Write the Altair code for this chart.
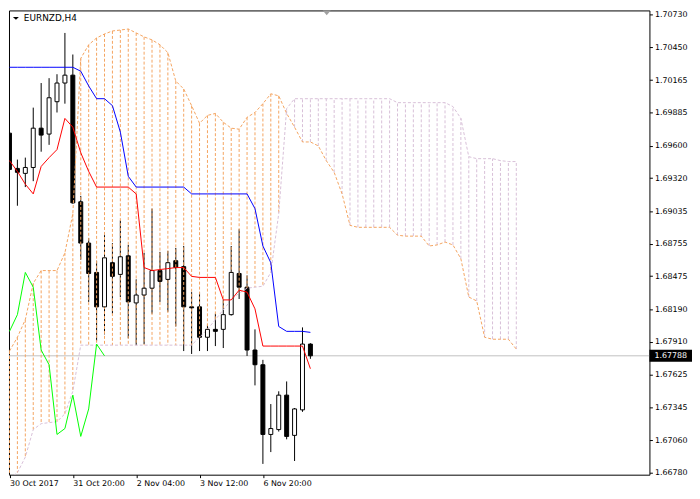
import altair as alt
import pandas as pd

symbol = "EURNZD,H4"
last_price = 1.67788

bar_index = list(range(39))
opens = [1.69708, 1.69404, 1.69361, 1.69412, 1.69751, 1.69700, 1.69979, 1.70140, 1.70208, 1.69116,
         1.68760, 1.68507, 1.68210, 1.68591, 1.68490, 1.68650, 1.68244, 1.68312, 1.68371, 1.68523,
         1.68447, 1.68608, 1.68557, 1.68210, 1.68210, 1.67948, 1.68016, 1.68016, 1.68143, 1.68498,
         1.68380, 1.67838, 1.67711, 1.67110, 1.67152, 1.67449, 1.67102, 1.67322, 1.67889]
highs = [1.69886, 1.69480, 1.69497, 1.69928, 1.70140, 1.70182, 1.70216, 1.70572, 1.70386, 1.69167,
         1.68803, 1.68608, 1.68828, 1.68760, 1.68955, 1.68744, 1.68447, 1.68676, 1.69057, 1.68684,
         1.68693, 1.68718, 1.68735, 1.68337, 1.68337, 1.68058, 1.68151, 1.68270, 1.68735, 1.68879,
         1.68481, 1.68016, 1.67753, 1.67372, 1.67482, 1.67567, 1.67338, 1.68033, 1.67897]
lows = [1.69243, 1.69082, 1.69243, 1.69294, 1.69548, 1.69607, 1.69886, 1.69962, 1.69099, 1.68617,
        1.68253, 1.67914, 1.67973, 1.68151, 1.68295, 1.67939, 1.67880, 1.67889, 1.68151, 1.68253,
        1.68168, 1.68041, 1.67829, 1.67804, 1.67829, 1.67829, 1.67872, 1.67855, 1.68135, 1.68278,
        1.67787, 1.67533, 1.66856, 1.66958, 1.67135, 1.67068, 1.66881, 1.67305, 1.67762]
closes = [1.69395, 1.69370, 1.69412, 1.69751, 1.69691, 1.70013, 1.70140, 1.70208, 1.69107, 1.68760,
          1.68498, 1.68210, 1.68633, 1.68473, 1.68642, 1.68253, 1.68312, 1.68371, 1.68523, 1.68430,
          1.68591, 1.68549, 1.68210, 1.68202, 1.67948, 1.68016, 1.67999, 1.68143, 1.68507, 1.68380,
          1.67838, 1.67711, 1.67110, 1.67161, 1.67449, 1.67093, 1.67330, 1.67889, 1.67788]

tenkan = [1.69471, 1.69378, 1.69268, 1.69184, 1.69421, 1.69497, 1.69566, 1.69835, 1.69759, 1.69539,
          1.69378, 1.69243, 1.69243, 1.69243, 1.69243, 1.69243, 1.69184, 1.68549, 1.68523, 1.68532,
          1.68540, 1.68549, 1.68549, 1.68473, 1.68464, 1.68464, 1.68464, 1.68270, 1.68270, 1.68354,
          1.68337, 1.68193, 1.67872, 1.67872, 1.67872, 1.67872, 1.67872, 1.67872, 1.67677]
kijun = [1.70276, 1.70276, 1.70276, 1.70276, 1.70276, 1.70276, 1.70276, 1.70276, 1.70276, 1.70242,
         1.70115, 1.70005, 1.70005, 1.69945, 1.69717, 1.69336, 1.69243, 1.69243, 1.69243, 1.69243,
         1.69243, 1.69243, 1.69243, 1.69184, 1.69184, 1.69184, 1.69184, 1.69184, 1.69184, 1.69184,
         1.69184, 1.69057, 1.68735, 1.68591, 1.68041, 1.67999, 1.67999, 1.67999, 1.67990]

cloud_index = list(range(65))
span_a = [1.67829, 1.67948, 1.68100, 1.68413, 1.68523, 1.68523, 1.68523, 1.68676, 1.69014, 1.70352,
          1.70470, 1.70529, 1.70563, 1.70589, 1.70597, 1.70606, 1.70572, 1.70538, 1.70512, 1.70470,
          1.70402, 1.70157, 1.70089, 1.69945, 1.69793, 1.69861, 1.69878, 1.69802, 1.69751, 1.69742,
          1.69844, 1.69886, 1.69962, 1.70047, 1.70030, 1.69878, 1.69759, 1.69632, 1.69632, 1.69598,
          1.69471, 1.69370, 1.69184, 1.68913, 1.68896, 1.68896, 1.68896, 1.68896, 1.68896, 1.68828,
          1.68820, 1.68820, 1.68820, 1.68735, 1.68744, 1.68769, 1.68744, 1.68625, 1.68295, 1.68261,
          1.67948, 1.67931, 1.67931, 1.67931, 1.67846]
span_b = [1.66729, 1.66780, 1.66915, 1.67152, 1.67203, 1.67212, 1.67220, 1.67288, 1.67482, 1.67880,
          1.67880, 1.67880, 1.67880, 1.67880, 1.67880, 1.67880, 1.67880, 1.67880, 1.67880, 1.67880,
          1.67880, 1.67880, 1.67880, 1.67880, 1.67948, 1.68016, 1.68100, 1.68185, 1.68270, 1.68329,
          1.68371, 1.68380, 1.68388, 1.68507, 1.69014, 1.69920, 1.70005, 1.70005, 1.70005, 1.70005,
          1.70005, 1.70005, 1.70005, 1.70005, 1.70005, 1.70005, 1.70005, 1.70005, 1.70005, 1.69971,
          1.69971, 1.69971, 1.69971, 1.69971, 1.69971, 1.69971, 1.69937, 1.69835, 1.69505, 1.69488,
          1.69488, 1.69488, 1.69471, 1.69463, 1.69463]

time_ticks = [0, 8, 16, 24, 32]
time_labels = ["30 Oct 2017", "31 Oct 20:00", "2 Nov 04:00", "3 Nov 12:00", "6 Nov 20:00"]
price_ticks = [1.70730, 1.70450, 1.70165, 1.69885, 1.69600, 1.69320, 1.69035, 1.68755,
               1.68475, 1.68190, 1.67910, 1.67625, 1.67345, 1.67060, 1.66780]

FONT = "DejaVu Sans"
SANDY = "#F4A460"
THISTLE = "#D8BFD8"

candles = pd.DataFrame({"i": bar_index, "open": opens, "high": highs, "low": lows, "close": closes})
bull = candles[candles["close"] >= candles["open"]]
bear = candles[candles["close"] < candles["open"]]

cloud = pd.DataFrame({"i": cloud_index, "a": span_a, "b": span_b})
cloud["hatch"] = [SANDY if a >= b else THISTLE for a, b in zip(span_a, span_b)]

ind = pd.DataFrame({"i": bar_index, "tenkan": tenkan, "kijun": kijun})
chikou = pd.DataFrame({"i": bar_index[:len(closes) - 26], "c": closes[26:]})
price_df = pd.DataFrame({"p": [last_price]})

# 8 px per bar, bar centres on half pixels for crisp 1px rules
xs = alt.Scale(domain=[-0.0625, 80.8125], zero=False, nice=False, padding=0)
ys = alt.Scale(domain=[1.66763, 1.70766], zero=False, nice=False, padding=0)

expr = "''"
for v, lab in reversed(list(zip(time_ticks, time_labels))):
    expr = f"datum.value == {v} ? '{lab}' : ({expr})"

xaxis = alt.Axis(values=time_ticks, labelExpr=expr, orient="bottom", domain=False, grid=False,
                 tickSize=3, tickColor="black", labelAlign="left", labelPadding=2,
                 labelFont=FONT, labelFontSize=8, labelColor="black", labelFlush=False,
                 labelOverlap=False, title=None)
yaxis = alt.Axis(values=price_ticks, format=".5f", orient="right", domain=False, grid=False,
                 tickSize=3, tickColor="black", labelPadding=2, labelFont=FONT, labelFontSize=8,
                 labelColor="black", labelOverlap=False, labelFlush=False, title=None)


def X(f):
    return alt.X(f"{f}:Q", scale=xs, axis=xaxis)


def Y(f):
    return alt.Y(f"{f}:Q", scale=ys, axis=yaxis)


price_line = alt.Chart(price_df).mark_rule(color="#C0C0C0", strokeWidth=1).encode(y=Y("p"))

wicks = alt.Chart(candles).mark_rule(color="black", strokeWidth=1, clip=True).encode(
    x=X("i"), y=Y("high"), y2="low")
bear_bodies = alt.Chart(bear).mark_bar(size=4, color="black", stroke="black", strokeWidth=1, clip=True).encode(
    x=X("i"), y=Y("open"), y2="close")
bull_bodies = alt.Chart(bull).mark_bar(size=4, fill="white", stroke="black", strokeWidth=1, clip=True).encode(
    x=X("i"), y=Y("open"), y2="close")

hatch = alt.Chart(cloud).mark_rule(strokeWidth=1, strokeDash=[3, 2], clip=True).encode(
    x=X("i"), y=Y("a"), y2="b", color=alt.Color("hatch:N", scale=None))
line_a = alt.Chart(cloud).mark_line(color=SANDY, strokeWidth=1, strokeDash=[3, 2], clip=True).encode(
    x=X("i"), y=Y("a"))
line_b = alt.Chart(cloud).mark_line(color=THISTLE, strokeWidth=1, strokeDash=[3, 2], clip=True).encode(
    x=X("i"), y=Y("b"))

tenkan_line = alt.Chart(ind).mark_line(color="#FF0000", strokeWidth=1, clip=True).encode(x=X("i"), y=Y("tenkan"))
kijun_line = alt.Chart(ind).mark_line(color="#0000FF", strokeWidth=1, clip=True).encode(x=X("i"), y=Y("kijun"))
chikou_line = alt.Chart(chikou).mark_line(color="#00FF00", strokeWidth=1, clip=True).encode(x=X("i"), y=Y("c"))

price_box = alt.Chart(price_df).mark_point(
    shape="M-1,-0.28L1,-0.28L1,0.28L-1,0.28Z", filled=True, fill="black", size=1849,
    opacity=1, strokeWidth=0).encode(x=alt.value(668.5), y=Y("p"))
price_text = alt.Chart(price_df).mark_text(
    align="left", baseline="middle", font=FONT, fontSize=8, color="white").encode(
    x=alt.value(652), y=Y("p"), text=alt.Text("p:Q", format=".5f"))

title_df = pd.DataFrame({"t": [symbol]})
title_text = alt.Chart(title_df).mark_text(
    align="left", baseline="middle", font=FONT, fontSize=9, color="black").encode(
    x=alt.value(15), y=alt.value(8), text="t:N")
title_tri = alt.Chart(title_df).mark_point(
    shape="M-1,-0.5L1,-0.5L0,0.5Z", filled=True, fill="black", size=36, opacity=1, strokeWidth=0).encode(
    x=alt.value(7), y=alt.value(8))
shift_tri = alt.Chart(title_df).mark_point(
    shape="M-1,-0.6L1,-0.6L0,0.6Z", filled=True, fill="#A0A0A0", size=64, opacity=1, strokeWidth=0).encode(
    x=alt.value(321), y=alt.value(2.5))

chart = alt.layer(
    price_line, wicks, bear_bodies, hatch, line_a, line_b, bull_bodies,
    tenkan_line, kijun_line, chikou_line, price_box, price_text, title_tri, title_text, shift_tri
).properties(width=647, height=469, padding=0, background="white").configure_view(
    stroke="black", strokeWidth=1)

chart.save("out.html", embed_options={"renderer": "svg", "actions": False})
